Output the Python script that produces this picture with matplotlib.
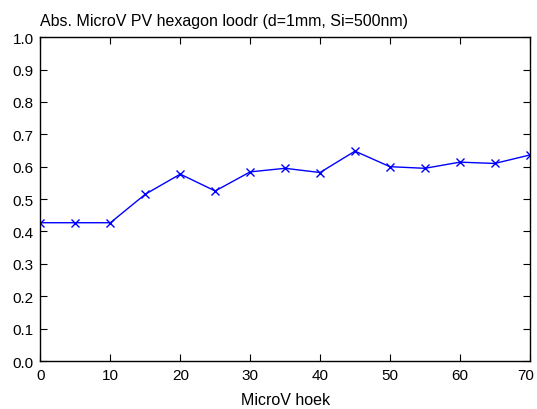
import matplotlib
matplotlib.use("Agg")
import matplotlib.pyplot as plt
import matplotlib.transforms as mtransforms

plt.rcParams['font.family'] = ['Liberation Sans', 'DejaVu Sans']

hoek = [0, 5, 10, 15, 20, 25, 30, 35, 40, 45, 50, 55, 60, 65, 70]
absorptie = [0.427, 0.427, 0.427, 0.515, 0.577, 0.525, 0.584, 0.595, 0.582,
             0.648, 0.600, 0.595, 0.614, 0.610, 0.636]

fig = plt.figure(figsize=(5.37, 4.10), dpi=100)
ax = fig.add_axes([0.0754, 0.117, 0.911, 0.790])

ax.plot(hoek, absorptie, "-x", color="blue", linewidth=1, markersize=5.5, markeredgewidth=1)

ax.set_xlim(0, 70)
ax.set_ylim(0, 1)
ax.set_xticks(range(0, 71, 10))
ax.set_yticks([i / 10 for i in range(11)])
ax.set_yticklabels(["%.1f" % (i / 10) for i in range(11)])
ax.tick_params(direction="in", top=True, right=True, length=5, labelsize=11, pad=5)
for s in ax.spines.values():
    s.set_linewidth(1)

# last x label would stick out of the figure, nudge it a bit left
lbl = ax.get_xticklabels()[-1]
lbl.set_transform(lbl.get_transform() + mtransforms.ScaledTranslation(-3 / 72, 0, fig.dpi_scale_trans))

ax.set_xlabel("MicroV hoek", fontsize=11.5, labelpad=7)
ax.set_title("Abs. MicroV PV hexagon loodr (d=1mm, Si=500nm)", fontsize=11.5, loc="left", pad=9)

plt.savefig("out.png")
